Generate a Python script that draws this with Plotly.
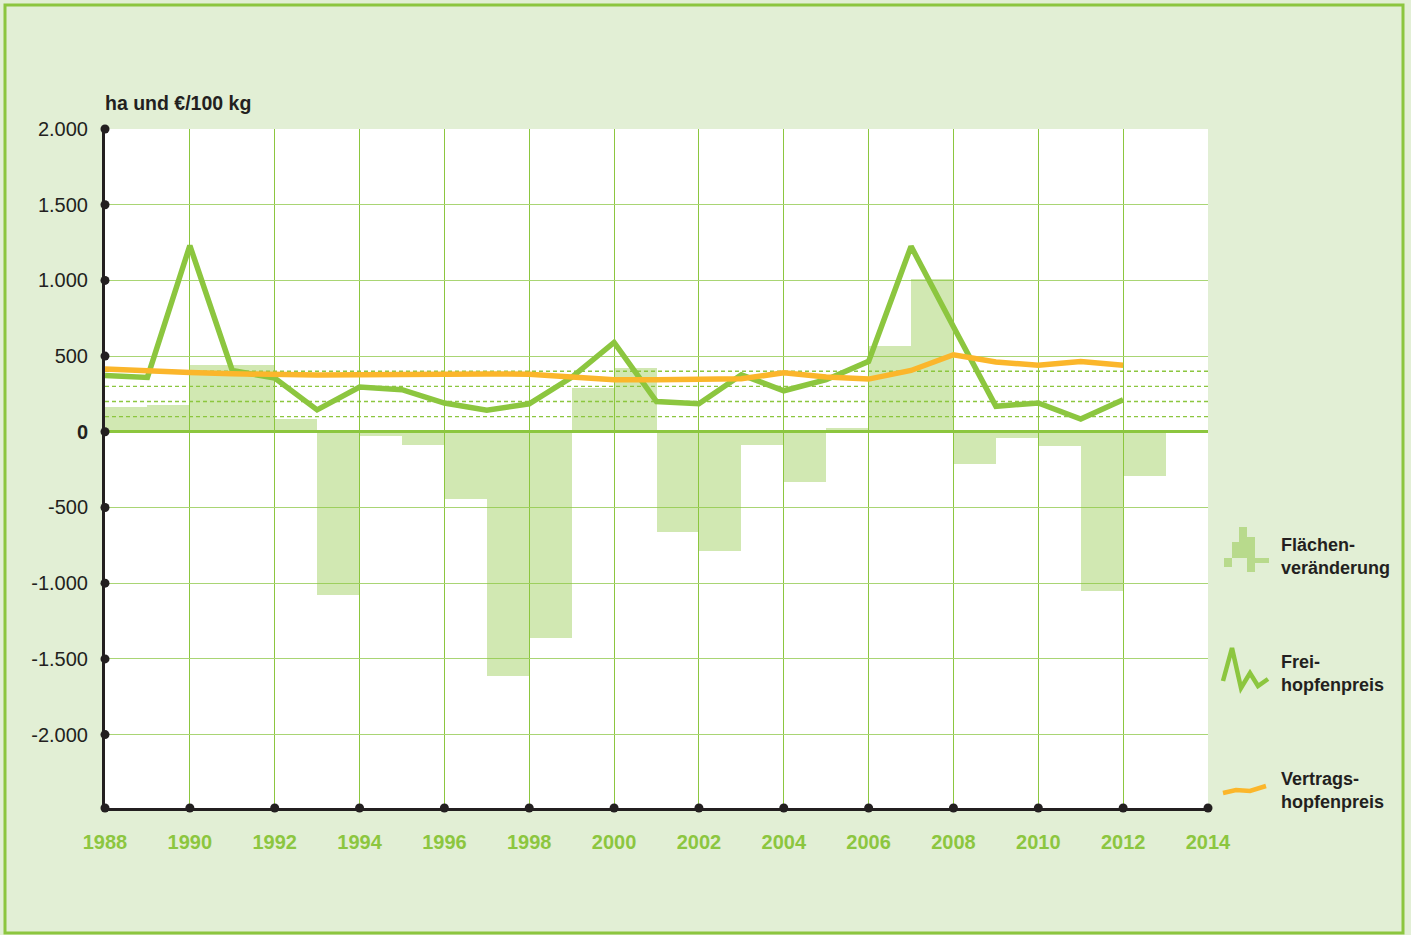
import plotly.graph_objects as go

# ---------------- data ----------------
years = list(range(1988, 2013))
flaechenveraenderung = [163, 178, 443, 443, 86, -1080, -31, -84, -443, -1610, -1365, 291, 423,
                        -661, -785, -84, -329, 26, 564, 1012, -210, -40, -97, -1050, -289]
freihopfenpreis = [372, 359, 1230, 405, 355, 145, 295, 278, 190, 142, 185, 360, 590,
                   200, 185, 377, 271, 344, 465, 1225, 694, 168, 190, 84, 212]
vertragshopfenpreis = [414, 400, 392, 383, 377, 375, 377, 380, 385, 382, 380, 366, 344,
                       344, 350, 350, 390, 362, 348, 405, 509, 461, 439, 465, 439]

x_ticks = list(range(1988, 2015, 2))
y_ticks = [2000, 1500, 1000, 500, 0, -500, -1000, -1500, -2000]
y_ticktext = ["2.000", "1.500", "1.000", "500", "<b>0</b>", "-500", "-1.000", "-1.500", "-2.000"]
dotted_levels = [100, 200, 300, 400]
legend_labels = ["Flächen-<br>veränderung", "Frei-<br>hopfenpreis", "Vertrags-<br>hopfenpreis"]
y_title = "ha und €/100 kg"

# ---------------- style ----------------
GREEN = "#8cc63f"
BAR = "rgba(140,198,63,0.40)"
ORANGE = "#fbb62b"
DARK = "#231f20"
BG = "#e2efd5"
X_MIN, X_MAX = 1988, 2014
Y_MIN, Y_MAX = -2485, 2000

W, H = 1411, 935
L, R, T, B = 105, 203, 129, 127
PW, PH = W - L - R, H - T - B


def px(x):
    return (x - L) / PW


def py(y):
    return (H - B - y) / PH


fig = go.Figure()

fig.add_trace(go.Bar(
    x=[y + 0.5 for y in years], y=flaechenveraenderung, width=1,
    marker=dict(color=BAR, line=dict(width=0)), showlegend=False, hoverinfo="x+y"))

fig.add_trace(go.Scatter(
    x=years, y=freihopfenpreis, mode="lines",
    line=dict(color=GREEN, width=5.5), showlegend=False))

fig.add_trace(go.Scatter(
    x=years, y=vertragshopfenpreis, mode="lines",
    line=dict(color=ORANGE, width=5.5), showlegend=False))

# axis tick dots
dot_x = [X_MIN] * len(y_ticks) + x_ticks
dot_y = y_ticks + [Y_MIN] * len(x_ticks)
fig.add_trace(go.Scatter(
    x=dot_x, y=dot_y, mode="markers", cliponaxis=False,
    marker=dict(color=DARK, size=9), showlegend=False, hoverinfo="skip"))

shapes = []
for lv in dotted_levels:
    shapes.append(dict(type="line", xref="paper", x0=0, x1=1, yref="y", y0=lv, y1=lv,
                       line=dict(color=GREEN, width=1.3, dash="4px,3px"), layer="below"))

# outer border
shapes.append(dict(type="rect", xref="paper", yref="paper",
                   x0=px(5), x1=px(1403), y0=py(5), y1=py(933),
                   line=dict(color=GREEN, width=3), fillcolor="rgba(0,0,0,0)", layer="below"))

# legend icon 1: stepped bars
blocks = [(1239, 1247, 527, 537), (1239, 1255, 537, 558), (1232, 1239, 542, 558),
          (1224, 1232, 558, 567), (1247, 1255, 558, 572), (1255, 1269, 558, 563)]
for x0, x1, y0, y1 in blocks:
    shapes.append(dict(type="rect", xref="paper", yref="paper",
                       x0=px(x0), x1=px(x1), y0=py(y0), y1=py(y1),
                       line=dict(width=0), fillcolor="#b8da8c"))


def path(points):
    return "M " + " L ".join(f"{px(a):.5f},{py(b):.5f}" for a, b in points)


zig = [(1223, 681), (1232, 648), (1241, 688), (1250, 673), (1258, 686), (1268, 679)]
shapes.append(dict(type="path", xref="paper", yref="paper", path=path(zig),
                   line=dict(color=GREEN, width=4.5)))
wave = [(1223, 793), (1236, 790), (1250, 791), (1266, 786)]
shapes.append(dict(type="path", xref="paper", yref="paper", path=path(wave),
                   line=dict(color=ORANGE, width=4.5)))

annotations = [dict(xref="paper", yref="paper", x=px(103), y=py(103), xanchor="left", yanchor="middle",
                    text=f"<b>{y_title}</b>", showarrow=False,
                    font=dict(family="Liberation Sans", size=19.5, color=DARK))]
for lab, yc in zip(legend_labels, [556, 673, 790]):
    annotations.append(dict(xref="paper", yref="paper", x=px(1279), y=py(yc), xanchor="left",
                            yanchor="middle", align="left", text=f"<b>{lab}</b>", showarrow=False,
                            font=dict(family="Liberation Sans", size=18, color=DARK)))

fig.update_layout(
    width=W, height=H,
    margin=dict(l=L, r=R, t=T, b=B, pad=0),
    paper_bgcolor=BG, plot_bgcolor="white",
    bargap=0, barmode="overlay",
    shapes=shapes, annotations=annotations,
    showlegend=False,
    xaxis=dict(range=[X_MIN, X_MAX], tickvals=x_ticks, ticktext=[str(v) for v in x_ticks],
               showgrid=True, gridcolor=GREEN, gridwidth=1,
               showline=True, linecolor=DARK, linewidth=3,
               ticks="", ticklabelstandoff=14, zeroline=False,
               tickfont=dict(family="Liberation Sans", size=20, color=GREEN, weight="bold")),
    yaxis=dict(range=[Y_MIN, Y_MAX], tickvals=y_ticks, ticktext=y_ticktext,
               showgrid=True, gridcolor="#a9d574", gridwidth=1,
               showline=True, linecolor=DARK, linewidth=3,
               ticks="", ticklabelstandoff=10,
               zeroline=True, zerolinecolor=GREEN, zerolinewidth=3,
               tickfont=dict(family="Liberation Sans", size=20, color=DARK)),
)

fig.write_html("out.html", config={"displayModeBar": False},
               post_script="document.body.style.margin='0px';")
